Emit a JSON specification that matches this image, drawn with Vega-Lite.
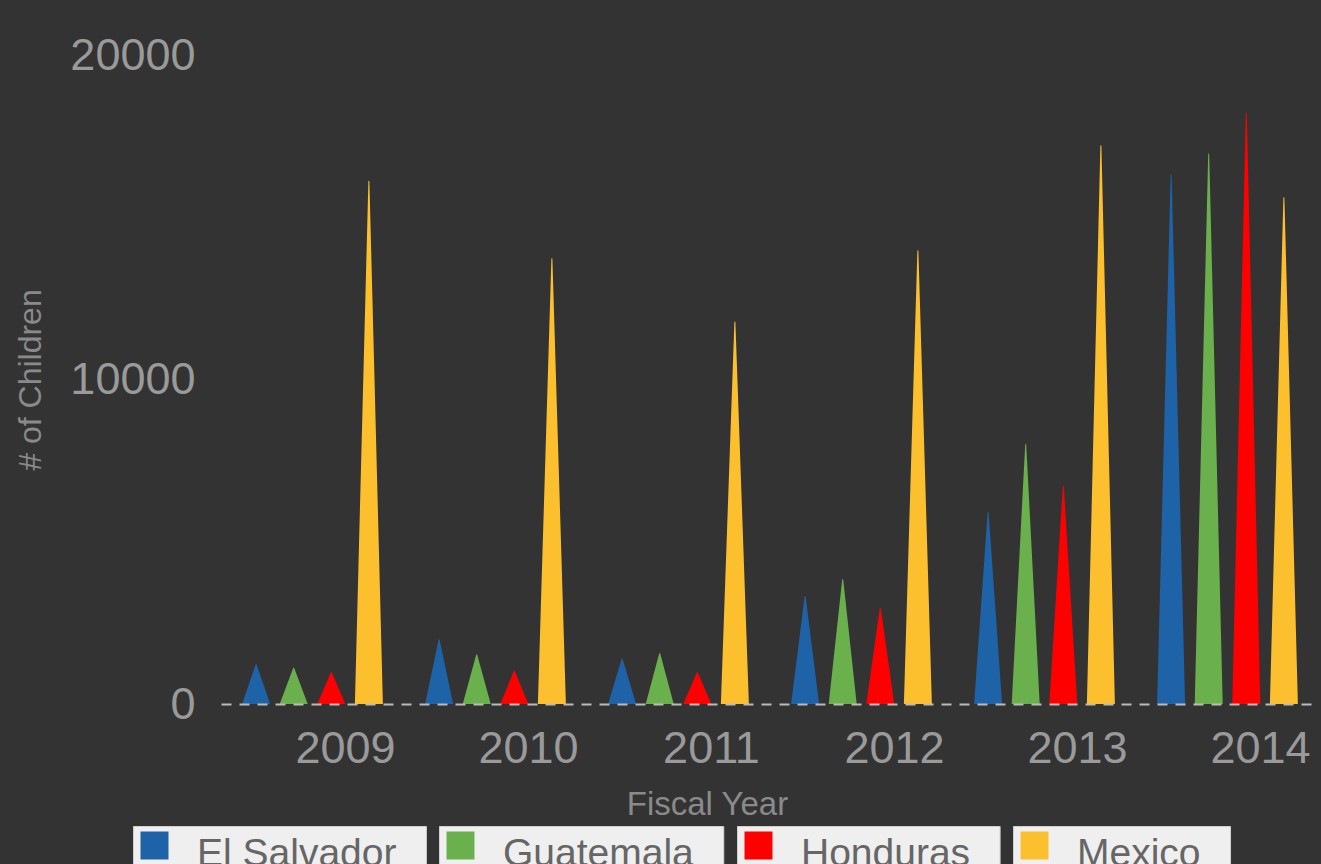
{
  "$schema": "https://vega.github.io/schema/vega-lite/v6.json",
  "width": 1098,
  "height": 649,
  "autosize": {"type": "none"},
  "padding": {"left": 221, "top": 55, "right": 2, "bottom": 160},
  "background": "#333333",
  "config": {
    "view": {"stroke": null},
    "font": "Liberation Sans"
  },
  "data": {
    "values": [
      {"year": "2009", "country": "El Salvador", "value": 1220},
      {"year": "2009", "country": "Guatemala", "value": 1110},
      {"year": "2009", "country": "Honduras", "value": 970},
      {"year": "2009", "country": "Mexico", "value": 16110},
      {"year": "2010", "country": "El Salvador", "value": 1980},
      {"year": "2010", "country": "Guatemala", "value": 1520},
      {"year": "2010", "country": "Honduras", "value": 1020},
      {"year": "2010", "country": "Mexico", "value": 13720},
      {"year": "2011", "country": "El Salvador", "value": 1390},
      {"year": "2011", "country": "Guatemala", "value": 1560},
      {"year": "2011", "country": "Honduras", "value": 970},
      {"year": "2011", "country": "Mexico", "value": 11770},
      {"year": "2012", "country": "El Salvador", "value": 3310},
      {"year": "2012", "country": "Guatemala", "value": 3840},
      {"year": "2012", "country": "Honduras", "value": 2950},
      {"year": "2012", "country": "Mexico", "value": 13970},
      {"year": "2013", "country": "El Salvador", "value": 5900},
      {"year": "2013", "country": "Guatemala", "value": 8000},
      {"year": "2013", "country": "Honduras", "value": 6700},
      {"year": "2013", "country": "Mexico", "value": 17200},
      {"year": "2014", "country": "El Salvador", "value": 16300},
      {"year": "2014", "country": "Guatemala", "value": 16950},
      {"year": "2014", "country": "Honduras", "value": 18200},
      {"year": "2014", "country": "Mexico", "value": 15600}
    ]
  },
  "transform": [
    {"stack": "value", "groupby": ["year", "country"], "as": ["lo", "hi"]},
    {"fold": ["lo", "hi"], "as": ["key", "y"]}
  ],
  "mark": {"type": "trail", "clip": true},
  "encoding": {
    "x": {
      "field": "year",
      "type": "nominal",
      "scale": {"paddingInner": 0, "paddingOuter": 0},
      "axis": {
        "title": "Fiscal Year",
        "titleFontSize": 33,
        "titleColor": "#8a8a8a",
        "titleFontWeight": "normal",
        "titleX": 486,
        "titleY": 100,
        "titleBaseline": "middle",
        "labelAngle": 0,
        "labelFontSize": 45,
        "labelColor": "#9a9a9a",
        "labelPadding": 22,
        "labelOffset": 33,
        "ticks": false,
        "grid": false,
        "domain": true,
        "domainColor": "#bbbbbb",
        "domainWidth": 2,
        "domainDash": [10, 8],
        "zindex": 1
      }
    },
    "xOffset": {
      "field": "country",
      "type": "nominal",
      "scale": {"padding": 0.934}
    },
    "y": {
      "field": "y",
      "type": "quantitative",
      "scale": {"domain": [0, 20000], "nice": false},
      "axis": {
        "title": "# of Children",
        "titleFontSize": 32,
        "titleColor": "#8a8a8a",
        "titleFontWeight": "normal",
        "titlePadding": 22,
        "values": [0, 10000, 20000],
        "format": "d",
        "labelFontSize": 45,
        "labelColor": "#9a9a9a",
        "labelPadding": 26,
        "ticks": false,
        "grid": false,
        "domain": false
      }
    },
    "size": {
      "field": "key",
      "type": "ordinal",
      "scale": {"domain": ["lo", "hi"], "range": [28, 0]},
      "legend": null
    },
    "detail": {"field": "year"},
    "order": {"field": "key", "sort": "descending"},
    "color": {
      "field": "country",
      "type": "nominal",
      "scale": {
        "domain": ["El Salvador", "Guatemala", "Honduras", "Mexico"],
        "range": ["#1e62a8", "#6ab04c", "#ff0000", "#fcc02e"]
      },
      "legend": {
        "title": null,
        "orient": "none",
        "legendX": -88,
        "legendY": 771,
        "direction": "horizontal",
        "padding": 0,
        "symbolType": "square",
        "symbolSize": 784,
        "symbolStrokeWidth": 0,
        "symbolOpacity": 1,
        "symbolOffset": 2,
        "labelFontSize": 39,
        "labelColor": "#666666",
        "labelOffset": 23,
        "labelLimit": 400,
        "labelExpr": "datum.label + '\u2800'",
        "columnPadding": 13,
        "encode": {
          "entries": {
            "update": {
              "fill": {"value": "#efefef"},
              "stroke": {"value": "#cfcfcf"},
              "strokeWidth": {"value": 1},
              "height": {"value": 60}
            }
          },
          "symbols": {
            "update": {
              "fill": {"scale": "color", "field": "value"},
              "stroke": {"value": null}
            }
          },
          "labels": {
            "update": {
              "dy": {"value": 8}
            }
          }
        }
      }
    }
  }
}
